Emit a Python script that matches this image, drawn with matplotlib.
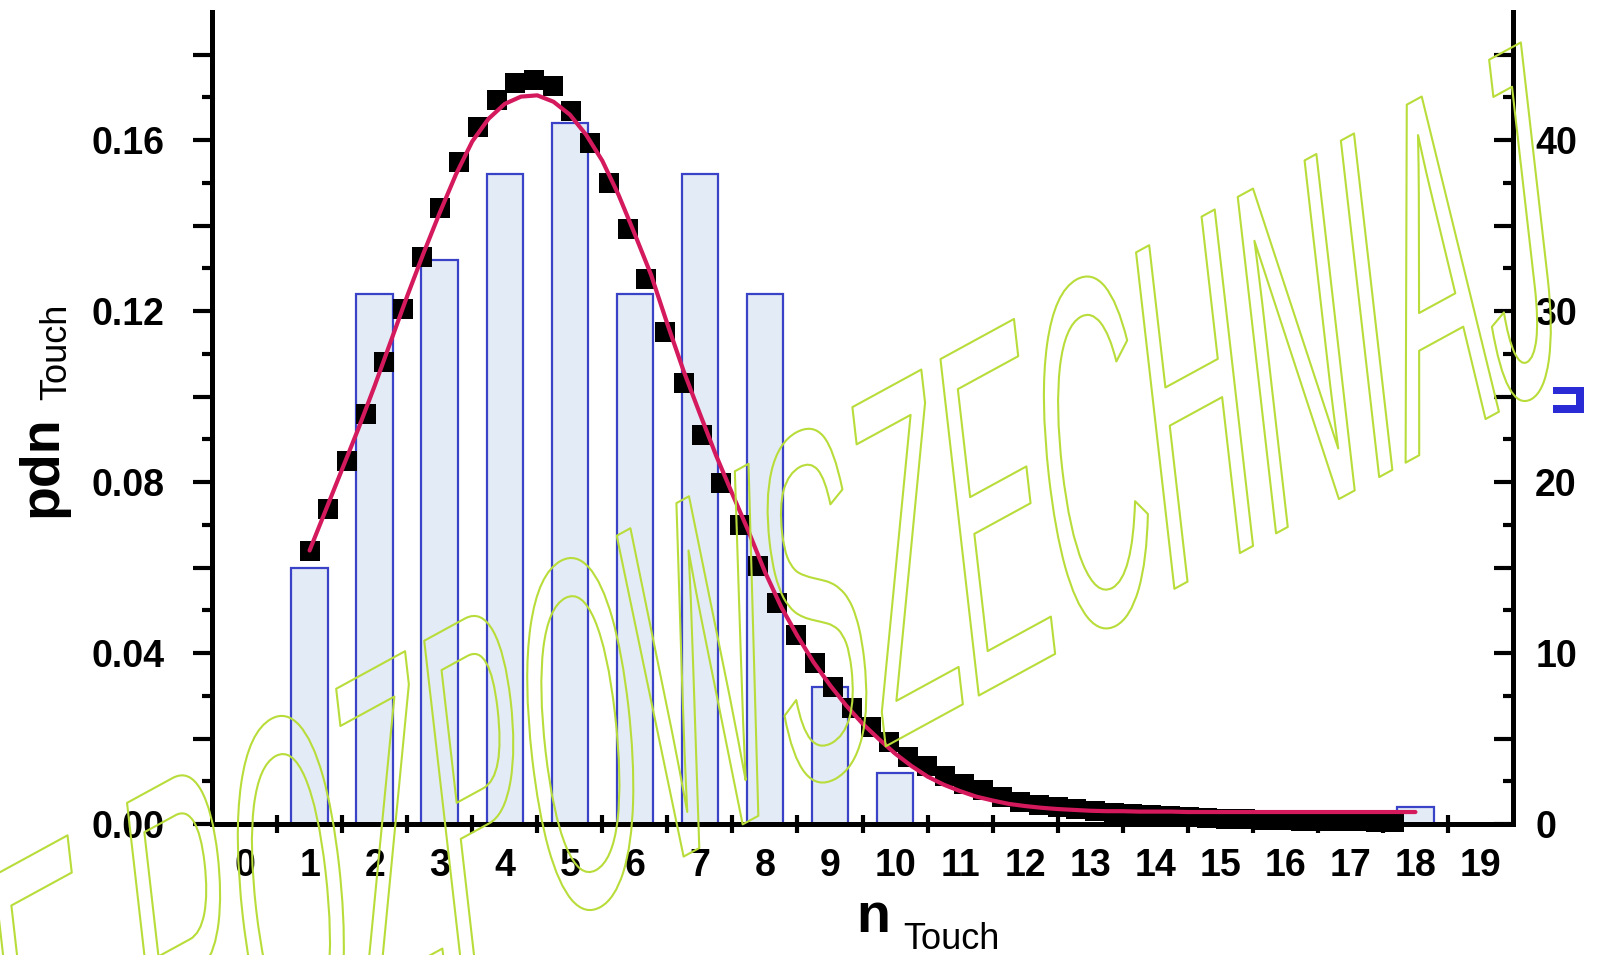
import numpy as np
import matplotlib
matplotlib.use("Agg")
import matplotlib.pyplot as plt
from matplotlib import patheffects
from matplotlib.patches import Rectangle
from matplotlib.transforms import Affine2D

# ---------------- data ----------------
n_touch = list(range(1, 19))
counts = [15, 31, 33, 38, 41, 31, 38, 31, 8, 3, 0, 0, 0, 0, 0, 0, 0, 1]

# model probabilities (black squares)
model_x = np.linspace(1.0, 17.675, 59)
model_pdn = [0.0639, 0.0737, 0.0850, 0.0959, 0.1081, 0.1206, 0.1326, 0.1441, 0.1548, 0.1630,
             0.1694, 0.1734, 0.1742, 0.1727, 0.1669, 0.1594, 0.1499, 0.1392, 0.1275, 0.1151,
             0.1032, 0.0910, 0.0799, 0.0699, 0.0603, 0.0516, 0.0442, 0.0377, 0.0321, 0.0271,
             0.0228, 0.0191, 0.0157, 0.0136, 0.0112, 0.0094, 0.0080, 0.0064, 0.0052, 0.0045,
             0.0039, 0.0034, 0.0030, 0.0026, 0.0023, 0.0020, 0.0018, 0.0016, 0.0014, 0.0012,
             0.0011, 0.0010, 0.0009, 0.0008, 0.0007, 0.0006, 0.0006, 0.0005, 0.0005]

# fitted curve (red line)
fit_x = np.arange(1.0, 18.001, 0.25)
fit_pdn = [0.0640, 0.0735, 0.0830, 0.0925, 0.1025, 0.1130, 0.1235, 0.1335, 0.1430, 0.1520,
           0.1597, 0.1650, 0.1685, 0.1702, 0.1705, 0.1690, 0.1660, 0.1613, 0.1552, 0.1472,
           0.1380, 0.1285, 0.1170, 0.1060, 0.0960, 0.0862, 0.0772, 0.0684, 0.0590, 0.0508,
           0.0440, 0.0378, 0.0325, 0.0277, 0.0235, 0.0199, 0.0165, 0.0136, 0.0111, 0.0092,
           0.0077, 0.0064, 0.0055, 0.0047, 0.0042, 0.0038, 0.0035, 0.0033, 0.0031, 0.0030,
           0.0030, 0.0029, 0.0029, 0.0029, 0.0028, 0.0028, 0.0028, 0.0028, 0.0028, 0.0028,
           0.0028, 0.0028, 0.0028, 0.0028, 0.0028, 0.0028, 0.0028, 0.0028, 0.0028]

x_ticks = list(range(0, 20))
x_labels = [str(v) for v in x_ticks]
x_minor = [v + 0.5 for v in range(0, 19)]

pdn_ticks = [0.00, 0.02, 0.04, 0.06, 0.08, 0.10, 0.12, 0.14, 0.16, 0.18]
pdn_labels = ['0.00', '', '0.04', '', '0.08', '', '0.12', '', '0.16', '']
pdn_minor = [0.01, 0.03, 0.05, 0.07, 0.09, 0.11, 0.13, 0.15, 0.17]

count_ticks = [0, 5, 10, 15, 20, 25, 30, 35, 40, 45]
count_labels = ['0', '', '10', '', '20', '', '30', '', '40', '']
count_minor = [2.5, 7.5, 12.5, 17.5, 22.5, 27.5, 32.5, 37.5, 42.5]

watermark = "NIE ROZPOWSZECHNIAJ"

# ---------------- style ----------------
plt.rcParams['font.family'] = ['Liberation Sans', 'DejaVu Sans']
plt.rcParams['font.weight'] = 'bold'

W, H, DPI = 1600, 955, 100
fig = plt.figure(figsize=(W / DPI, H / DPI), dpi=DPI)
fig.patch.set_facecolor('white')

left, right, bottom, top = 212, 1513, 824, 12
ax = fig.add_axes([left / W, 1 - bottom / H, (right - left) / W, (bottom - top) / H])
ax2 = ax.twinx()
ax2.set_zorder(ax.get_zorder() - 1)
ax.patch.set_visible(False)

ax.set_xlim(-0.5, 19.5)
ax.set_ylim(0, 0.19)
ax2.set_ylim(0, 47.5)

# histogram of observed counts (right axis)
ax2.bar(n_touch, counts, width=0.56, facecolor='#e3ebf6', edgecolor='#3a42c8',
        linewidth=1.6, zorder=1)

# model points and fit (left axis)
ax.plot(model_x, model_pdn, linestyle='none', marker='s', ms=15, color='black',
        mew=0, clip_on=False, zorder=3)
ax.plot(fit_x, fit_pdn, color='#d4195c', lw=3, zorder=4, solid_capstyle='round')

spine_w = 3.6
for name, sp in ax.spines.items():
    sp.set_visible(name in ('left', 'bottom'))
    sp.set_linewidth(spine_w)
for name, sp in ax2.spines.items():
    sp.set_visible(name == 'right')
    sp.set_linewidth(spine_w)

ax.set_xticks(x_ticks, x_labels)
ax.set_xticks(x_minor, minor=True)
ax.tick_params(axis='x', which='major', length=0, pad=17, labelsize=27)
ax.tick_params(axis='x', which='minor', direction='inout', length=13, width=3)

ax.set_yticks(pdn_ticks, pdn_labels)
ax.set_yticks(pdn_minor, minor=True)
ax.tick_params(axis='y', which='major', direction='out', length=14, width=3, pad=20, labelsize=27)
ax.tick_params(axis='y', which='minor', direction='out', length=7, width=3)

ax2.set_yticks(count_ticks, count_labels)
ax2.set_yticks(count_minor, minor=True)
ax2.tick_params(axis='y', which='major', direction='in', length=14, width=3, pad=16, labelsize=27)
ax2.tick_params(axis='y', which='minor', direction='in', length=7, width=3)

# axis titles with subscripts
fig.text(56 / W, 1 - 517 / H, 'pdn', rotation=90, rotation_mode='anchor', ha='left',
         va='baseline', fontsize=40, fontweight='bold')
fig.text(66 / W, 1 - 400 / H, 'Touch', rotation=90, rotation_mode='anchor', ha='left',
         va='baseline', fontsize=26, fontweight='normal')
fig.text(856 / W, 1 - 932 / H, 'n', ha='left', va='baseline', fontsize=40, fontweight='bold')
fig.text(903 / W, 1 - 949 / H, 'Touch', ha='left', va='baseline', fontsize=26, fontweight='normal')

# small blue mark at the right edge
fig.add_artist(Rectangle((1553 / W, 1 - 413 / H), 31 / W, 26 / H, transform=fig.transFigure,
                         facecolor='#2b2bd6', edgecolor='none'))
fig.add_artist(Rectangle((1548 / W, 1 - 405 / H), 28 / W, 11 / H, transform=fig.transFigure,
                         facecolor='white', edgecolor='none'))


# ---------------- outlined, slanted stamp text ----------------
class WarpedOutline(patheffects.AbstractPathEffect):
    """Strokes the glyph outline after an extra affine warp about the text anchor."""

    def __init__(self, color, linewidth, warp):
        super().__init__()
        self._color = color
        self._lw = linewidth
        self._warp = warp
        self.text = None

    def draw_path(self, renderer, gc, tpath, affine, rgbFace=None):
        ax_, ay_ = self.text.get_transform().transform(self.text.get_position())
        extra = Affine2D().translate(-ax_, -ay_) + self._warp + Affine2D().translate(ax_, ay_)
        gc0 = renderer.new_gc()
        gc0.copy_properties(gc)
        gc0.set_foreground(self._color)
        gc0.set_linewidth(self._lw)
        renderer.draw_path(gc0, tpath, affine + extra, None)
        gc0.restore()


em_px = 504.0      # glyph em size in pixels
condense = 0.63    # horizontal condensing of glyphs
theta = 14.0       # rotation of the stamp (deg)
squash = 0.457     # horizontal squash after rotation
th = np.deg2rad(theta)
dvec = em_px * condense * np.array([squash * np.cos(th), np.sin(th)])
base_px = float(np.hypot(*dvec))
base_ang = float(np.degrees(np.arctan2(dvec[1], dvec[0])))

warp = (Affine2D().rotate_deg(-base_ang).scale(condense, 1.0).rotate_deg(theta)
        .scale(squash, 1.0).scale(em_px / base_px))
effect = WarpedOutline('#b8dd3a', 1.5, warp)
stamp = fig.text(-120 / W, -340 / H, watermark, rotation=base_ang, rotation_mode='anchor',
                 ha='left', va='baseline', fontsize=base_px * 72 / DPI, fontweight='normal',
                 color=(0, 0, 0, 0), zorder=10, path_effects=[effect])
effect.text = stamp

fig.savefig('out.png', dpi=DPI)
